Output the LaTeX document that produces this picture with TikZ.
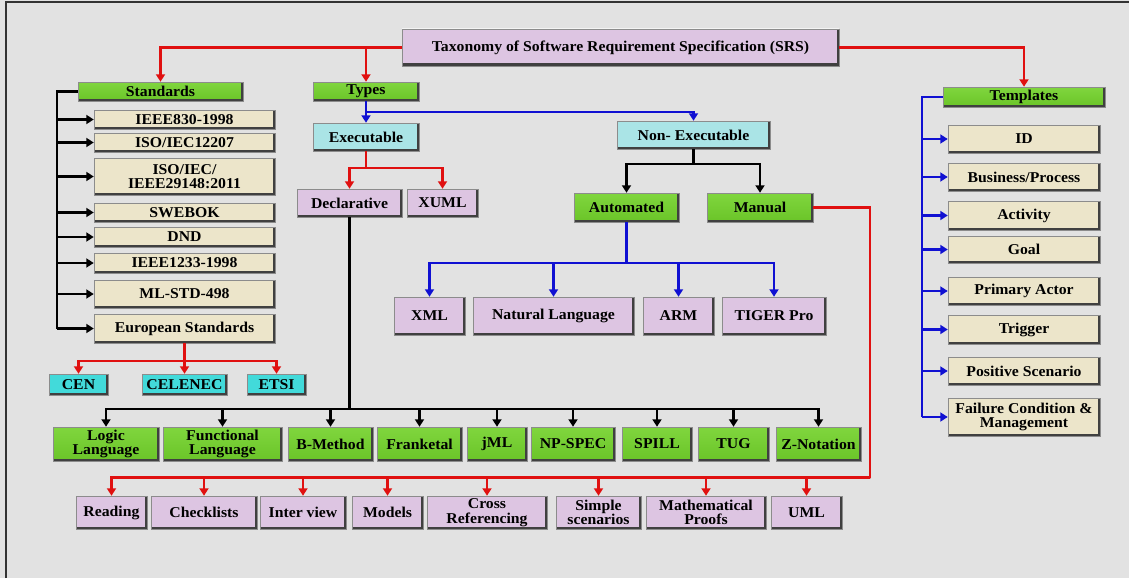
\documentclass[tikz,border=0pt]{standalone}
\usepackage{fontspec}
\setmainfont{Liberation Serif}[FakeStretch=1.05]
\usetikzlibrary{arrows.meta,calc}

\definecolor{bg}{RGB}{226,226,226}
\definecolor{grn}{RGB}{106,196,40}
\definecolor{grnhi}{RGB}{128,214,62}
\definecolor{beige}{RGB}{236,229,202}
\definecolor{lav}{RGB}{221,197,226}
\definecolor{cyn}{RGB}{66,218,218}
\definecolor{ltcyn}{RGB}{170,228,230}
\definecolor{rline}{RGB}{224,16,16}
\definecolor{bline}{RGB}{16,16,210}

\tikzset{
  bevel/.style={draw=black!45, line width=0.5pt, inner sep=0pt, align=center,
    font=\fontsize{15}{14.5}\selectfont\bfseries,
    path picture={
      \draw[white, opacity=.65, line width=2.6pt]
        (path picture bounding box.south west) -- (path picture bounding box.north west)
        -- (path picture bounding box.north east);
      \draw[black!75, line width=5pt]
        (path picture bounding box.north east) -- (path picture bounding box.south east)
        -- (path picture bounding box.south west);}},
  gbox/.style={bevel, top color=grnhi, bottom color=grn},
  ebox/.style={bevel, fill=beige},
  lbox/.style={bevel, fill=lav},
  cbox/.style={bevel, fill=cyn},
  xbox/.style={bevel, fill=ltcyn},
  arr/.style={-{Triangle[width=9pt,length=7.5pt]}},
  rl/.style={draw=rline, line width=2.1pt},
  bl/.style={draw=bline, line width=2.1pt},
  kl/.style={draw=black, line width=2.1pt},
}

% box by its corners: name, x1, y1, x2, y2, style, text
\newcommand\bx[7]{%
  \pgfmathsetmacro\bxw{#4-#2}\pgfmathsetmacro\bxh{#5-#3}%
  \node[#6, minimum width=\bxw pt, minimum height=\bxh pt] (#1)
    at ({(#2+#4)/2},{(#3+#5)/2}) {#7};}

\begin{document}
\begin{tikzpicture}[x=1pt,y=-1pt]
\fill[bg] (0,0) rectangle (1129,578);
\useasboundingbox (0,0) rectangle (1129,578);
\draw[black!80, line width=1.5pt] (6,578) -- (6,2) -- (1129,2);

% top levels
\bx{title}{402}{29}{839}{66}{lbox}{Taxonomy of Software Requirement Specification (SRS)}
\bx{std}{78}{82}{243}{101}{gbox}{Standards}
\bx{types}{313}{82}{419}{101}{gbox}{Types}
\bx{tmpl}{943}{87}{1105}{107}{gbox}{Templates}

% standards
\bx{s1}{94}{110}{275}{129}{ebox}{IEEE830-1998}
\bx{s2}{94}{133}{275}{152}{ebox}{ISO/IEC12207}
\bx{s3}{94}{158}{275}{195}{ebox}{ISO/IEC/\\IEEE29148:2011}
\bx{s4}{94}{203}{275}{222}{ebox}{SWEBOK}
\bx{s5}{94}{227}{275}{247}{ebox}{DND}
\bx{s6}{94}{253}{275}{273}{ebox}{IEEE1233-1998}
\bx{s7}{94}{280}{275}{308}{ebox}{ML-STD-498}
\bx{s8}{94}{314}{275}{343}{ebox}{European Standards}
\bx{cen}{49}{374}{108}{395}{cbox}{CEN}
\bx{cel}{142}{374}{227}{395}{cbox}{CELENEC}
\bx{etsi}{247}{374}{306}{395}{cbox}{ETSI}

% types
\bx{exec}{313}{123}{419}{151}{xbox}{Executable}
\bx{nonexec}{617}{121}{770}{149}{xbox}{Non- Executable}
\bx{decl}{297}{189}{402}{217}{lbox}{Declarative}
\bx{xuml}{407}{189}{478}{217}{lbox}{XUML}
\bx{auto}{574}{193}{679}{222}{gbox}{Automated}
\bx{manual}{707}{193}{813}{222}{gbox}{Manual}
\bx{xml}{394}{297}{465}{335}{lbox}{XML}
\bx{nl}{473}{297}{634}{335}{lbox}{Natural Language}
\bx{arm}{643}{297}{714}{335}{lbox}{ARM}
\bx{tiger}{722}{297}{826}{335}{lbox}{TIGER Pro}

% declarative languages
\bx{logic}{53}{427}{159}{461}{gbox}{Logic\\Language}
\bx{func}{163}{427}{282}{461}{gbox}{Functional\\Language}
\bx{bm}{288}{427}{373}{461}{gbox}{B-Method}
\bx{fr}{377}{427}{462}{461}{gbox}{Franketal}
\bx{jml}{467}{427}{527}{461}{gbox}{jML}
\bx{np}{531}{427}{615}{461}{gbox}{NP-SPEC}
\bx{spill}{622}{427}{692}{461}{gbox}{SPILL}
\bx{tug}{698}{427}{769}{461}{gbox}{TUG}
\bx{zn}{776}{427}{861}{461}{gbox}{Z-Notation}

% manual techniques
\bx{read}{76}{496}{147}{529}{lbox}{Reading}
\bx{chk}{151}{496}{257}{529}{lbox}{Checklists}
\bx{intv}{260}{496}{346}{529}{lbox}{Inter view}
\bx{mod}{352}{496}{423}{529}{lbox}{Models}
\bx{cross}{427}{496}{547}{529}{lbox}{Cross\\Referencing}
\bx{simple}{556}{496}{641}{529}{lbox}{Simple\\scenarios}
\bx{math}{646}{496}{766}{529}{lbox}{Mathematical\\Proofs}
\bx{uml}{771}{496}{842}{529}{lbox}{UML}

% templates
\bx{id}{948}{125}{1100}{153}{ebox}{ID}
\bx{bp}{948}{163}{1100}{191}{ebox}{Business/Process}
\bx{act}{948}{201}{1100}{230}{ebox}{Activity}
\bx{goal}{948}{236}{1100}{263}{ebox}{Goal}
\bx{pa}{948}{277}{1100}{305}{ebox}{Primary Actor}
\bx{trig}{948}{315}{1100}{344}{ebox}{Trigger}
\bx{ps}{948}{357}{1100}{385}{ebox}{Positive Scenario}
\bx{fc}{948}{398}{1100}{436}{ebox}{Failure Condition \&\\Management}

% root branches
\draw[rl,arr] (title.west) -| (std.north);
\draw[rl,arr] (types.north |- title.west) -- (types.north);
\draw[rl,arr] (title.east) -| (tmpl.north);

% standards bracket
\draw[kl] (std.west) -- ++(-21,0) coordinate (sb) -- (sb |- s8.west);
\foreach \n in {s1,s2,s3,s4,s5,s6,s7,s8}
  \draw[kl,arr] (sb |- \n.west) -- (\n.west);

% european standards
\draw[rl] (s8.south) -- ++(0,18) coordinate (eb);
\draw[rl,arr] (eb) -| (cen.north);
\draw[rl,arr] (eb) -- (cel.north);
\draw[rl,arr] (eb) -| (etsi.north);

% types
\draw[bl,arr] (types.south) -- (exec.north);
\draw[bl,arr] ($(types.south)!0.5!(exec.north)$) -| (nonexec.north);

\draw[rl] (exec.south) -- ++(0,17) coordinate (ex);
\draw[rl,arr] (ex) -| (decl.north);
\draw[rl,arr] (ex) -| (xuml.north);

\draw[kl] (nonexec.south) -- ++(0,15) coordinate (nx);
\draw[kl,arr] (nx) -| (auto.north);
\draw[kl,arr] (nx) -| (manual.north);

\draw[bl] (auto.south) -- ++(0,41) coordinate (ax);
\foreach \n in {xml,nl,arm,tiger}
  \draw[bl,arr] (ax) -| (\n.north);

\draw[kl] (decl.south) -- ++(0,192) coordinate (dx);
\foreach \n in {logic,func,bm,fr,jml,np,spill,tug,zn}
  \draw[kl,arr] (dx) -| (\n.north);

\draw[rl] (manual.east) -- ++(57,0) -- ++(0,270) coordinate (mx);
\foreach \n in {read,chk,intv,mod,cross,simple,math,uml}
  \draw[rl,arr] (mx) -| (\n.north);

% templates bracket
\draw[bl] (tmpl.west) -- ++(-21,0) coordinate (tb) -- (tb |- fc.west);
\foreach \n in {id,bp,act,goal,pa,trig,ps,fc}
  \draw[bl,arr] (tb |- \n.west) -- (\n.west);
\end{tikzpicture}
\end{document}
